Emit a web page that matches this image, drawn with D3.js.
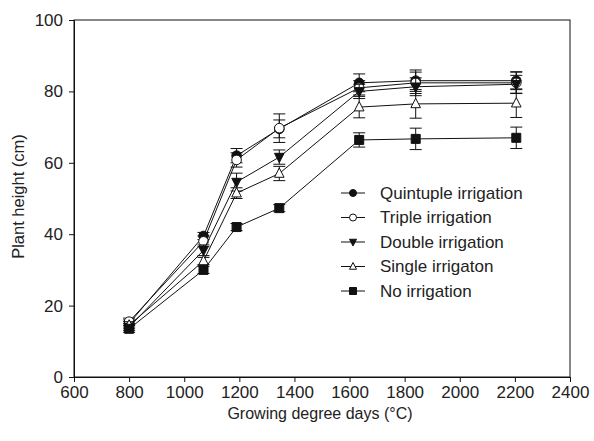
<!DOCTYPE html>
<meta charset="utf-8">
<style>
  body { margin: 0; background: #fff; }
  text { font-family: "Liberation Sans", Arial, sans-serif; fill: #222; }
  .series path.ln { fill: none; stroke: #111; stroke-width: 1px; }
  .err line { stroke: #111; stroke-width: 1px; }
</style>
<svg width="594" height="441"></svg>
<script src="https://d3js.org/d3.v7.min.js"></script>
<script>

  var svg = d3.select("svg"),
    margin = { top: 20, right: 24, bottom: 64, left: 74 },
    width = +svg.attr("width") - margin.left - margin.right,
    height = +svg.attr("height") - margin.top - margin.bottom;

  var gdd = [800, 1070, 1190, 1345, 1635, 1840, 2205];

  var names = ["Quintuple irrigation", "Triple irrigation", "Double irrigation", "Single irrigaton", "No irrigation"];

  var quintuple = [15, 39.5, 62, 69.5, 82.4, 83, 83];
  var triple = [15.5, 38, 60.8, 69.7, 81, 82.4, 82.4];
  var double = [14, 35.5, 54.6, 61.6, 80, 81.3, 82];
  var single = [14.5, 32.5, 51.5, 57, 75.6, 76.5, 76.7];
  var none = [13.5, 30, 42, 47.3, 66.4, 66.7, 67];

  var quintupleErr = [1, 1, 2, 2.5, 2.5, 3, 2.5];
  var tripleErr = [1, 1.5, 2, 4, 2, 3, 3];
  var doubleErr = [1, 1.5, 2.5, 2, 2, 2.5, 2.5];
  var singleErr = [1, 1, 1.5, 2, 3, 4, 4];
  var noneErr = [1, 1, 1, 1, 2, 3, 3];

  var xTicks = [600, 800, 1000, 1200, 1400, 1600, 1800, 2000, 2200, 2400];
  var yTicks = [0, 20, 40, 60, 80, 100];

  var series = [
    { name: names[0], values: quintuple, err: quintupleErr, symbol: "circle", fill: "#111" },
    { name: names[1], values: triple, err: tripleErr, symbol: "circle", fill: "#fff" },
    { name: names[2], values: double, err: doubleErr, symbol: "down", fill: "#111" },
    { name: names[3], values: single, err: singleErr, symbol: "up", fill: "#fff" },
    { name: names[4], values: none, err: noneErr, symbol: "square", fill: "#111" }
  ];

  var x = d3.scaleLinear().domain([600, 2400]).range([0, width]);
  var y = d3.scaleLinear().domain([0, 100]).range([height, 0]);

  var g = svg.append("g").attr("transform", "translate(" + margin.left + "," + margin.top + ")");

  // frame
  g.append("rect").attr("width", width).attr("height", height)
    .attr("fill", "none").attr("stroke", "#111").attr("stroke-width", 1);

  var xAxis = g.append("g").attr("transform", "translate(0," + height + ")")
    .call(d3.axisBottom(x).tickValues(xTicks).tickSize(5).tickPadding(4).tickFormat(d3.format("d")));
  var yAxis = g.append("g")
    .call(d3.axisLeft(y).tickValues(yTicks).tickSize(5).tickPadding(6));
  [xAxis, yAxis].forEach(function (a) {
    a.select(".domain").attr("stroke", "#111");
    a.selectAll(".tick line").attr("stroke", "#111");
    a.selectAll("text").style("font-size", "17px").attr("fill", "#222");
  });

  g.append("text").attr("x", width / 2 - 2).attr("y", height + 42)
    .attr("text-anchor", "middle").style("font-size", "16px")
    .text("Growing degree days (°C)");

  g.append("text").attr("transform", "rotate(-90)")
    .attr("x", -height / 2 + 2).attr("y", -50)
    .attr("text-anchor", "middle").style("font-size", "16.5px")
    .text("Plant height (cm)");

  function symbolPath(type, s) {
    if (type === "circle") return d3.symbol(d3.symbolCircle, Math.PI * s * s)();
    if (type === "square") return d3.symbol(d3.symbolSquare, (2 * s) * (2 * s))();
    var h = s * 1.05;
    if (type === "down") return "M" + (-s) + "," + (-h * 0.75) + "L" + s + "," + (-h * 0.75) + "L0," + (h * 1.1) + "Z";
    return "M" + (-s) + "," + (h * 0.75) + "L" + s + "," + (h * 0.75) + "L0," + (-h * 1.1) + "Z";
  }

  var line = d3.line().x(function (d, i) { return x(gdd[i]); }).y(function (d) { return y(d); });

  // drawn in legend order, so later series sit on top
  var sg = g.selectAll(".series").data(series).enter()
    .append("g").attr("class", "series");

  sg.append("path").attr("class", "ln").attr("d", function (d) { return line(d.values); });

  sg.each(function (s) {
    var el = d3.select(this);
    var pts = s.values.map(function (v, i) { return { x: gdd[i], v: v, e: s.err[i] }; });
    var eb = el.selectAll(".err").data(pts).enter().append("g").attr("class", "err");
    eb.append("line")
      .attr("x1", function (d) { return x(d.x); }).attr("x2", function (d) { return x(d.x); })
      .attr("y1", function (d) { return y(d.v - d.e); }).attr("y2", function (d) { return y(d.v + d.e); });
    [-1, 1].forEach(function (sgn) {
      eb.append("line")
        .attr("x1", function (d) { return x(d.x) - 6; }).attr("x2", function (d) { return x(d.x) + 6; })
        .attr("y1", function (d) { return y(d.v + sgn * d.e); }).attr("y2", function (d) { return y(d.v + sgn * d.e); });
    });
    el.selectAll(".mk").data(pts).enter().append("path")
      .attr("class", "mk")
      .attr("transform", function (d) { return "translate(" + x(d.x) + "," + y(d.v) + ")"; })
      .attr("d", symbolPath(s.symbol, s.symbol === "square" ? 4.5 : 4.8))
      .attr("fill", s.fill).attr("stroke", "#111").attr("stroke-width", 1);
  });

  // legend
  var legend = g.append("g").attr("transform", "translate(" + (341 - margin.left) + "," + (193 - margin.top) + ")");
  var li = legend.selectAll("g").data(series).enter().append("g")
    .attr("transform", function (d, i) { return "translate(0," + (i * 24.5) + ")"; });
  li.append("line").attr("x1", 0).attr("x2", 24).attr("stroke", "#111");
  li.append("path").attr("transform", "translate(12,0)")
    .attr("d", function (d) { return symbolPath(d.symbol, 3.5); })
    .attr("fill", function (d) { return d.fill; }).attr("stroke", "#111");
  li.append("text").attr("x", 39).attr("dy", "0.35em").style("font-size", "17px")
    .text(function (d) { return d.name; });

</script>
